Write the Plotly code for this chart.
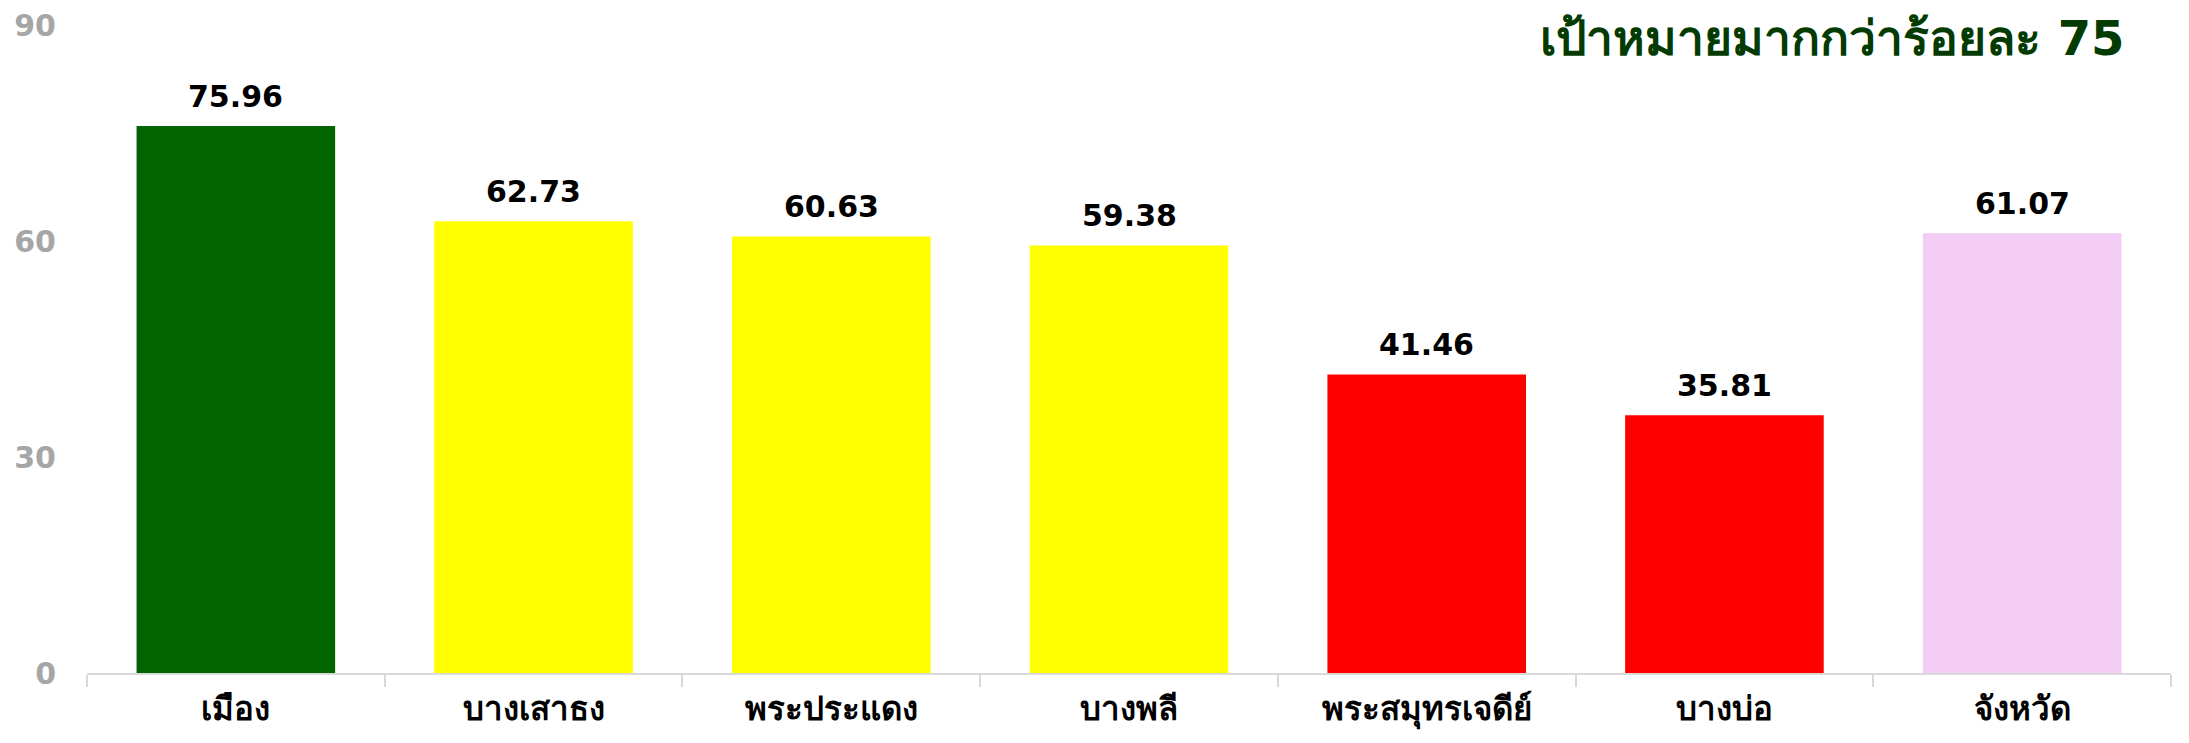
import plotly.graph_objects as go

categories = ["เมือง", "บางเสาธง", "พระประแดง", "บางพลี", "พระสมุทรเจดีย์", "บางบ่อ", "จังหวัด"]
values = [75.96, 62.73, 60.63, 59.38, 41.46, 35.81, 61.07]
bar_colors = ["#006400", "#FFFF00", "#FFFF00", "#FFFF00", "#FF0000", "#FF0000", "#F2CCF5"]
y_ticks = [0, 30, 60, 90]
title_text = "เป้าหมายมากกว่าร้อยละ 75"

FONT = "Tahoma, 'DejaVu Sans', sans-serif"

# page body has an 8px default margin; size the figure to fit the window
W, H = 2189 - 16, 743 - 16

fig = go.Figure(
    go.Bar(
        x=categories,
        y=values,
        marker=dict(color=bar_colors, line=dict(width=0)),
        hoverinfo="x+y",
    )
)

annotations = [
    dict(
        x=c, y=v, xref="x", yref="y",
        text=f"<b>{v:.2f}</b>",
        showarrow=False,
        xanchor="center", yanchor="bottom",
        yshift=10,
        font=dict(family=FONT, size=30, color="black"),
    )
    for c, v in zip(categories, values)
]
annotations.append(
    dict(
        text=f"<b>{title_text}</b>",
        xref="paper", yref="paper",
        x=0.979, y=1.0,
        xanchor="right", yanchor="top",
        yshift=17,
        showarrow=False,
        font=dict(family=FONT, size=48, color="#033B03"),
    )
)

fig.update_layout(
    width=W,
    height=H,
    margin=dict(l=79, r=10, t=17, b=62, autoexpand=False),
    paper_bgcolor="white",
    plot_bgcolor="white",
    bargap=0.333,
    showlegend=False,
    font=dict(family=FONT),
    annotations=annotations,
)

fig.update_xaxes(
    type="category",
    automargin=False,
    showline=True,
    linecolor="#D9D9D9",
    linewidth=2,
    ticks="outside",
    tickson="boundaries",
    ticklen=12,
    tickcolor="#D9D9D9",
    tickwidth=2,
    showgrid=False,
    tickfont=dict(family=FONT, size=33, color="black", weight="bold"),
    ticklabelstandoff=5,
)

fig.update_yaxes(
    range=[0, 90],
    automargin=False,
    tickvals=y_ticks,
    showgrid=False,
    zeroline=False,
    showline=False,
    ticks="",
    tickfont=dict(family=FONT, size=30, color="#A6A6A6", weight="bold"),
    ticklabelstandoff=30,
    ticklabeloverflow="allow",
)

fig.write_html("out.html")
